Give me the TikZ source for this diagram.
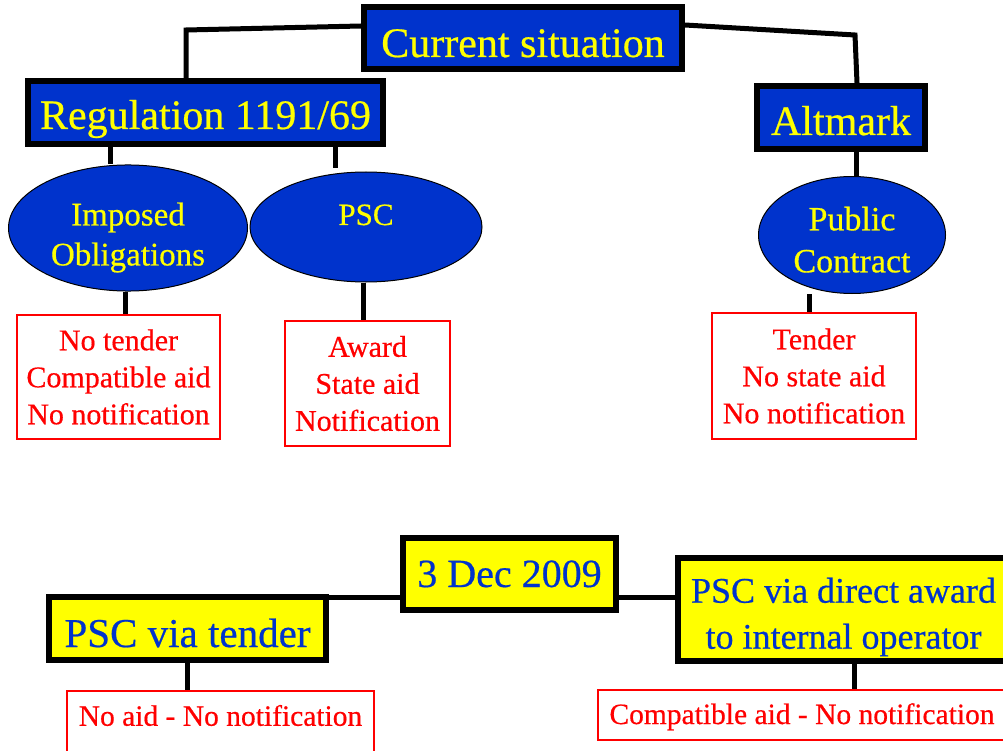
\documentclass[tikz,border=0pt]{standalone}
\usepackage{fontspec}
\setmainfont{Liberation Serif}[FakeBold=0.5]
\usetikzlibrary{shapes.geometric,backgrounds}
\definecolor{pblue}{HTML}{0033CC}
\definecolor{pyellow}{HTML}{FFFF00}
\definecolor{pred}{HTML}{FF0000}
\tikzset{
  bluebox/.style={draw=black, line width=6pt, fill=pblue, text=pyellow, inner sep=0pt, font=\fontsize{42}{50}\selectfont},
  yelbox/.style={draw=black, line width=6pt, fill=pyellow, text=pblue, inner sep=0pt, align=center},
  oval/.style={ellipse, draw=black, line width=1pt, fill=pblue, text=pyellow, inner sep=0pt, align=center},
  redbox/.style={draw=pred, line width=1.5pt, text=pred, inner sep=0pt, align=center, font=\fontsize{30}{37}\selectfont},
  conn/.style={line width=5pt, draw=black}
}
\begin{document}
\begin{tikzpicture}[x=1pt,y=-1pt]
\useasboundingbox (0,0) rectangle (1003,751);
\clip (0,0) rectangle (1003,751);
% top tree
\node[bluebox, minimum width=318pt, minimum height=62pt, text height=40pt, text depth=2pt] (cur) at (523,38) {Current situation};
\node[bluebox, minimum width=355pt, minimum height=63pt, text height=36pt, text depth=3pt] (reg) at (205.5,112.5) {Regulation 1191/69};
\node[bluebox, minimum width=168pt, minimum height=63pt, text height=37pt, text depth=2pt] (alt) at (841,117.5) {Altmark};
\node[oval, minimum width=239pt, minimum height=117pt, font=\fontsize{33}{40}\selectfont] (imp) at (128,228) {\rule{0pt}{42pt}Imposed\\Obligations};
\node[oval, minimum width=232pt, minimum height=110pt, font=\fontsize{31}{40}\selectfont, text height=20pt, text depth=24pt] (psc) at (366,227) {PSC};
\node[oval, minimum width=187pt, minimum height=117pt, font=\fontsize{34}{42}\selectfont] (pc) at (852,235) {\rule{0pt}{33pt}Public\\Contract};
\node[redbox, minimum width=203pt, minimum height=124pt] (ibox) at (118.5,377) {No tender\\Compatible aid\\No notification};
\node[redbox, minimum width=165pt, minimum height=125pt] (pbox) at (367.5,383.5) {Award\\State aid\\Notification};
\node[redbox, minimum width=204pt, minimum height=126pt] (tbox) at (814,376) {Tender\\No state aid\\No notification};
% bottom tree
\node[yelbox, minimum width=213pt, minimum height=72pt, font=\fontsize{40}{48}\selectfont, text height=30pt, text depth=4pt] (dec) at (509.5,574) {3 Dec 2009};
\node[yelbox, minimum width=277pt, minimum height=63pt, font=\fontsize{41}{48}\selectfont, text height=40pt, text depth=3pt] (ten) at (187.5,628.5) {PSC via tender};
\node[yelbox, minimum width=331pt, minimum height=103pt, font=\fontsize{36}{46}\selectfont] (dir) at (843.5,609.5) {\rule{0pt}{40pt}PSC via direct award\\to internal operator};
\node[redbox, anchor=north, minimum width=307pt, text height=35pt, text depth=60pt, font=\fontsize{29.5}{37}\selectfont] (noaid) at (220.5,690) {No aid - No notification};
\node[redbox, minimum width=408pt, minimum height=50pt, font=\fontsize{29.5}{37}\selectfont, text height=22pt, text depth=4pt] (comp) at (802,715) {Compatible aid - No notification};
% connectors
\coordinate (k1) at (186,30);
\coordinate (k2) at (855,35);
\coordinate (pscend) at (335,168);
\begin{pgfonlayer}{background}
\draw[conn] (cur.west |- 0,26) -- (k1) -- (186,0 |- reg.north);
\draw[conn] (cur.east |- 0,25) -- (k2) -- (857,0 |- alt.north);
\draw[conn] (110,0 |- reg.south) -- (110,0 |- imp.north);
\draw[conn] (335,0 |- reg.south) -- (pscend);
\draw[conn] (856,0 |- alt.south) -- (856,0 |- pc.north);
\draw[conn] (125,0 |- imp.south) -- (125,0 |- ibox.north);
\draw[conn] (363,0 |- psc.south) -- (363,0 |- pbox.north);
\draw[conn] (809,0 |- pc.south) -- (809,0 |- tbox.north);
\draw[conn] (dec.west |- 0,597) -- (ten.east |- 0,597);
\draw[conn] (dec.east |- 0,597) -- (dir.west |- 0,597);
\draw[conn] (187,0 |- ten.south) -- (187,0 |- noaid.north);
\draw[conn] (854,0 |- dir.south) -- (854,0 |- comp.north);
\end{pgfonlayer}
\end{tikzpicture}
\end{document}
